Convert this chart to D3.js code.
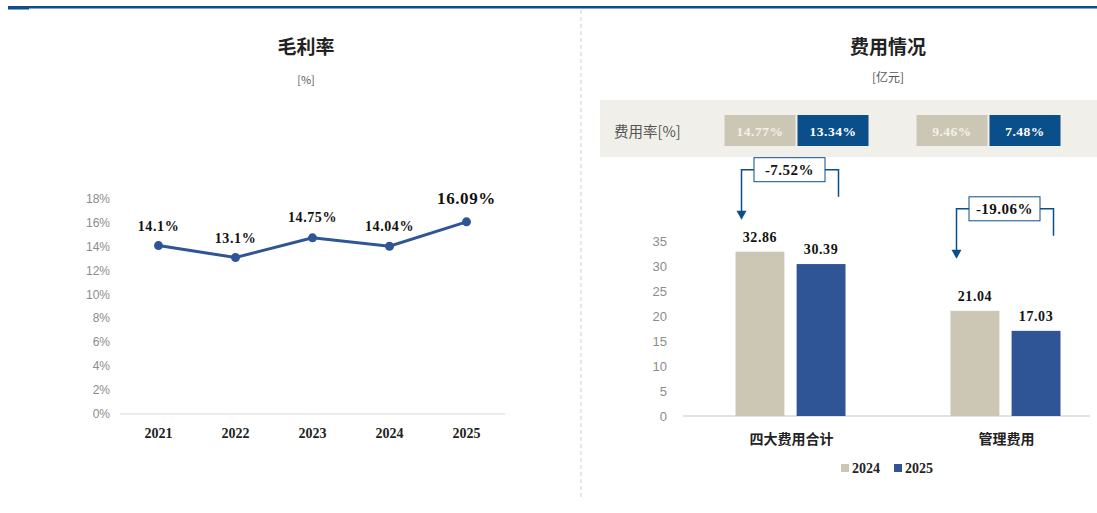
<!DOCTYPE html>
<html lang="zh">
<head>
<meta charset="UTF-8">
<title>毛利率 / 费用情况</title>
<script src="https://cdn.jsdelivr.net/npm/d3@7"></script>
<style>
  body { margin: 0; background: #fff; }
  svg { display: block; }
</style>
</head>
<body>
<script>
// data
var years = ["2021", "2022", "2023", "2024", "2025"];
var grossMargin = [14.1, 13.1, 14.75, 14.04, 16.09];
var marginLabels = ["14.1%", "13.1%", "14.75%", "14.04%", "16.09%"];
var marginTicks = [0, 2, 4, 6, 8, 10, 12, 14, 16, 18];

var costCats = ["四大费用合计", "管理费用"];
var costSeries = ["2024", "2025"];
var cost2024 = [32.86, 21.04];
var cost2025 = [30.39, 17.03];
var costRate2024 = ["14.77%", "9.46%"];
var costRate2025 = ["13.34%", "7.48%"];
var costChange = ["-7.52%", "-19.06%"];
var costTicks = [0, 5, 10, 15, 20, 25, 30, 35];

var width = 1097, height = 513;
var darkBlue = "#0b4f8a", lineBlue = "#2f5597", beige = "#ccc7b5";
var cjk = "'Noto Sans CJK SC', sans-serif";
var num = "'Liberation Serif', 'DejaVu Serif', serif";

var svg = d3.select("body").append("svg")
  .attr("width", width)
  .attr("height", height);

// top rule + divider
svg.append("rect").attr("x", 8).attr("y", 6).attr("width", width - 8).attr("height", 2.5).attr("fill", darkBlue);
svg.append("rect").attr("x", 8).attr("y", 6).attr("width", 21).attr("height", 3.5).attr("fill", darkBlue);
svg.append("line")
  .attr("x1", 581).attr("x2", 581).attr("y1", 10).attr("y2", 497)
  .attr("stroke", "#cfcfcf").attr("stroke-dasharray", "4,3");

// ---------- left: gross margin ----------
var gL = svg.append("g");
gL.append("text").attr("x", 306).attr("y", 54).attr("text-anchor", "middle")
  .style("font-family", cjk).style("font-size", "19px").style("font-weight", "bold").attr("fill", "#222")
  .text("毛利率");
gL.append("text").attr("x", 306).attr("y", 84).attr("text-anchor", "middle")
  .style("font-family", cjk).style("font-size", "11px").attr("fill", "#555")
  .text("[%]");

var x1 = d3.scaleBand().domain(years).range([120, 505]);
var y1 = d3.scaleLinear().domain([0, 18]).range([414, 199]);

gL.append("line").attr("x1", 120).attr("x2", 505).attr("y1", y1(0)).attr("y2", y1(0))
  .attr("stroke", "#d9d9d9");

gL.selectAll(".ytick").data(marginTicks).enter().append("text")
  .attr("x", 110).attr("y", function(d) { return y1(d) + 4; })
  .attr("text-anchor", "end")
  .style("font-family", "'Liberation Sans', Arial, sans-serif").style("font-size", "12px").attr("fill", "#8c8c8c")
  .text(function(d) { return d + "%"; });

gL.selectAll(".xtick").data(years).enter().append("text")
  .attr("x", function(d) { return x1(d) + x1.bandwidth() / 2; })
  .attr("y", 438).attr("text-anchor", "middle")
  .style("font-family", num).style("font-size", "14px").style("font-weight", "bold").attr("fill", "#222")
  .text(function(d) { return d; });

var pts = years.map(function(d, i) { return [x1(d) + x1.bandwidth() / 2, y1(grossMargin[i])]; });
gL.append("path")
  .attr("d", d3.line()(pts))
  .attr("fill", "none").attr("stroke", lineBlue).attr("stroke-width", 3);
gL.selectAll(".dot").data(pts).enter().append("circle")
  .attr("cx", function(d) { return d[0]; }).attr("cy", function(d) { return d[1]; })
  .attr("r", 4.5).attr("fill", lineBlue);

var labOff = [-15, -15, -16, -15, -18];
gL.selectAll(".mlab").data(pts).enter().append("text")
  .attr("x", function(d) { return d[0]; })
  .attr("y", function(d, i) { return d[1] + labOff[i]; })
  .attr("text-anchor", "middle")
  .style("font-family", num).style("font-weight", "bold").style("letter-spacing", "0.6px")
  .style("font-size", function(d, i) { return i == 4 ? "17px" : "14px"; })
  .attr("fill", "#111")
  .text(function(d, i) { return marginLabels[i]; });

// ---------- right: costs ----------
var gR = svg.append("g");
gR.append("text").attr("x", 888).attr("y", 54).attr("text-anchor", "middle")
  .style("font-family", cjk).style("font-size", "19px").style("font-weight", "bold").attr("fill", "#222")
  .text("费用情况");
gR.append("text").attr("x", 888).attr("y", 82).attr("text-anchor", "middle")
  .style("font-family", cjk).style("font-size", "12px").attr("fill", "#555")
  .text("[亿元]");

var x2 = d3.scaleBand().domain(costCats).range([683, 1113]);
var xs = d3.scaleBand().domain(costSeries).range([-55, 55]).paddingInner(0.2);
var y2 = d3.scaleLinear().domain([0, 35]).range([416, 241]);
var color = d3.scaleOrdinal().domain(costSeries).range([beige, lineBlue]);

// rate strip
gR.append("rect").attr("x", 600).attr("y", 100).attr("width", 497).attr("height", 57).attr("fill", "#f0efea");
gR.append("text").attr("x", 614).attr("y", 137)
  .style("font-family", cjk).style("font-size", "14.5px").attr("fill", "#555")
  .text("费用率[%]");

var rateX = d3.scaleBand().domain(costCats).range([700.5, 1084.5]);
costCats.forEach(function(c, i) {
  var cx = rateX(c) + rateX.bandwidth() / 2;
  [[costRate2024[i], beige, "#f3f1ea"], [costRate2025[i], darkBlue, "#fff"]].forEach(function(r, j) {
    var bx = cx - 72 + j * 73;
    gR.append("rect").attr("x", bx).attr("y", 115).attr("width", 71).attr("height", 31).attr("fill", r[1]);
    gR.append("text").attr("x", bx + 35.5).attr("y", 135.5).attr("text-anchor", "middle")
      .style("font-family", num).style("font-size", "13.5px").style("font-weight", "bold").attr("fill", r[2])
      .style("letter-spacing", "0.5px")
      .text(r[0]);
  });
});

gR.append("line").attr("x1", 683).attr("x2", 1090).attr("y1", y2(0)).attr("y2", y2(0))
  .attr("stroke", "#d9d9d9").attr("stroke-width", 1.5);

gR.selectAll(".ytick").data(costTicks).enter().append("text")
  .attr("x", 667).attr("y", function(d) { return y2(d) + 5; })
  .attr("text-anchor", "end")
  .style("font-family", "'Liberation Sans', Arial, sans-serif").style("font-size", "13px").attr("fill", "#8c8c8c")
  .text(function(d) { return d; });

var barData = [];
costCats.forEach(function(c, i) {
  barData.push({ cat: c, s: "2024", v: cost2024[i] });
  barData.push({ cat: c, s: "2025", v: cost2025[i] });
});

gR.selectAll(".bar").data(barData).enter().append("rect")
  .attr("x", function(d) { return x2(d.cat) + x2.bandwidth() / 2 + xs(d.s); })
  .attr("width", xs.bandwidth())
  .attr("y", function(d) { return y2(d.v); })
  .attr("height", function(d) { return y2(0) - y2(d.v); })
  .attr("fill", function(d) { return color(d.s); });

gR.selectAll(".blab").data(barData).enter().append("text")
  .attr("x", function(d) { return x2(d.cat) + x2.bandwidth() / 2 + xs(d.s) + xs.bandwidth() / 2; })
  .attr("y", function(d) { return y2(d.v) - 10; })
  .attr("text-anchor", "middle")
  .style("font-family", num).style("font-size", "14px").style("font-weight", "bold").attr("fill", "#111")
  .style("letter-spacing", "0.6px")
  .text(function(d) { return d.v.toFixed(2); });

gR.selectAll(".xtick").data(costCats).enter().append("text")
  .attr("x", function(d) { return x2(d) + x2.bandwidth() / 2 + 1; })
  .attr("y", 444).attr("text-anchor", "middle")
  .style("font-family", cjk).style("font-size", "14px").style("font-weight", "bold").attr("fill", "#222")
  .text(function(d) { return d; });

// change callouts
var calloutLift = [82, 102];
costCats.forEach(function(c, i) {
  var base = x2(c) + x2.bandwidth() / 2;
  var leftX = base - 49, rightX = base + 48;
  var topY = y2(cost2024[i]) - calloutLift[i];
  var tipY = topY + 50;
  var rightY = topY + 27;
  var bw = 71, bx = base - 1 - bw / 2;
  gR.append("path")
    .attr("d", "M" + bx + "," + topY + " H" + leftX + " V" + (tipY - 8))
    .attr("fill", "none").attr("stroke", darkBlue).attr("stroke-width", 1.5);
  gR.append("path")
    .attr("d", "M" + (leftX - 5) + "," + (tipY - 9) + " L" + (leftX + 5) + "," + (tipY - 9) + " L" + leftX + "," + tipY + " Z")
    .attr("fill", darkBlue);
  gR.append("path")
    .attr("d", "M" + (bx + bw) + "," + topY + " H" + rightX + " V" + rightY)
    .attr("fill", "none").attr("stroke", darkBlue).attr("stroke-width", 1.5);
  gR.append("rect").attr("x", bx).attr("y", topY - 12).attr("width", bw).attr("height", 24)
    .attr("fill", "#fff").attr("stroke", darkBlue).attr("stroke-width", 1);
  gR.append("text").attr("x", bx + bw / 2).attr("y", topY + 5).attr("text-anchor", "middle")
    .style("font-family", num).style("font-size", "15px").style("font-weight", "bold").attr("fill", "#111")
    .style("letter-spacing", "0.5px")
    .text(costChange[i]);
});

// legend
var leg = gR.selectAll(".leg").data(costSeries).enter().append("g")
  .attr("transform", function(d, i) { return "translate(" + (841 + i * 53) + ",462)"; });
leg.append("rect").attr("width", 8).attr("height", 8).attr("y", 2).attr("fill", function(d) { return color(d); });
leg.append("text").attr("x", 11).attr("y", 11)
  .style("font-family", num).style("font-size", "14px").style("font-weight", "bold").attr("fill", "#222")
  .text(function(d) { return d; });
</script>
</body>
</html>
